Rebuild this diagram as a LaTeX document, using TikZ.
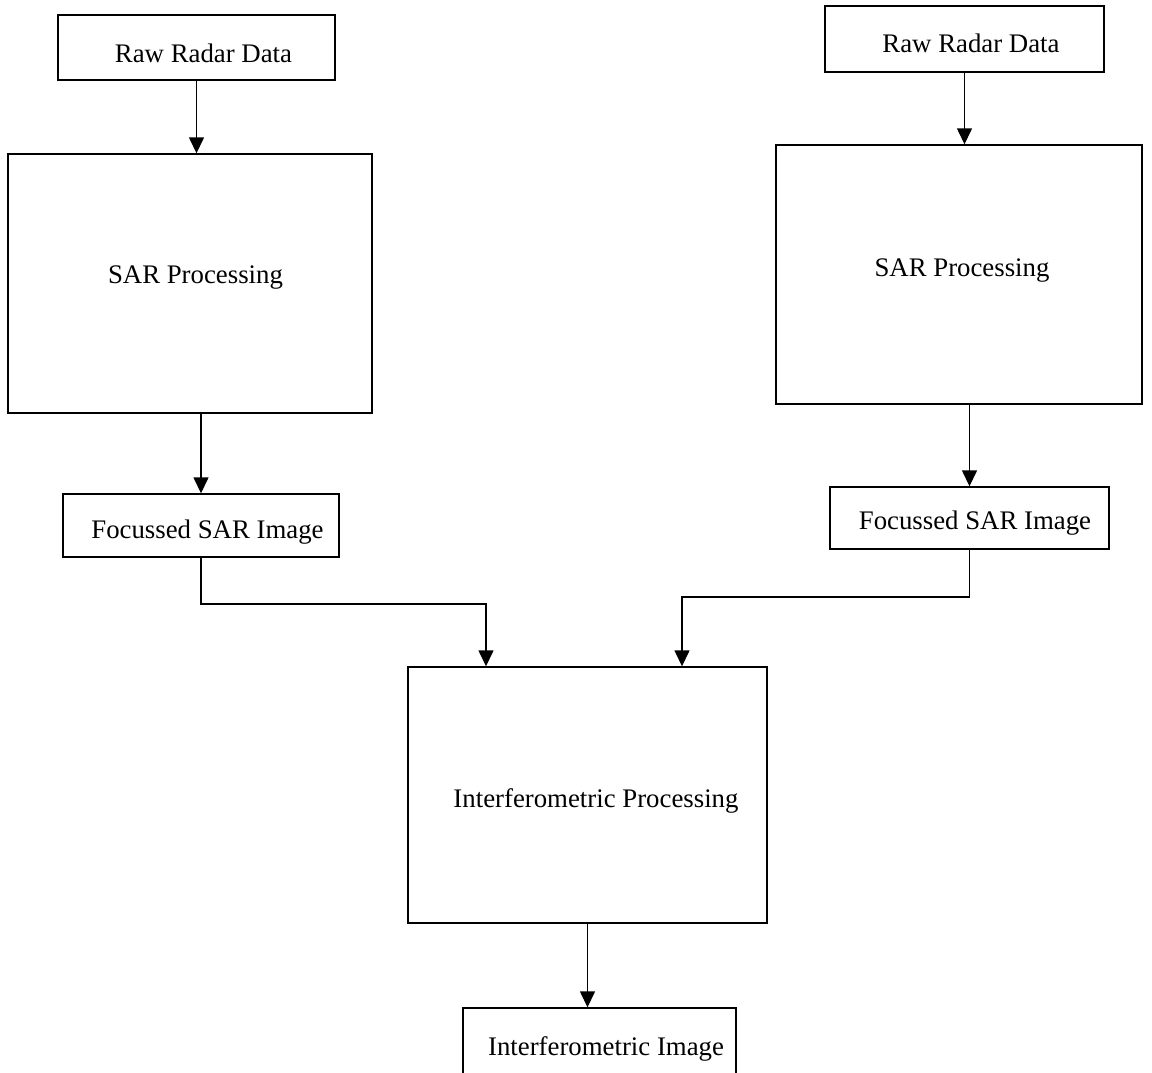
\documentclass[tikz,border=0pt]{standalone}
\usepackage{fontspec}
\setmainfont{Liberation Serif}
\usetikzlibrary{arrows.meta}
\begin{document}
\begin{tikzpicture}[x=1pt,y=-1pt,
  box/.style={draw, line width=1.4pt, rectangle, inner sep=0pt},
  lbl/.style={anchor=base, inner sep=0pt, font=\fontsize{26.8}{32}\selectfont},
  conn/.style={line width=1.4pt, -{Triangle[length=16pt,width=15pt]}},
  wire/.style={line width=1.4pt}]
\clip (0,0) rectangle (1152,1072);
\fill[white] (0,0) rectangle (1152,1072);

% boxes
\node[box, minimum width=277pt, minimum height=65pt]  (rawL) at (196.5,47.5) {};
\node[box, minimum width=364pt, minimum height=259pt] (sarL) at (190,283.5) {};
\node[box, minimum width=276pt, minimum height=63pt]  (focL) at (201,525.5) {};
\node[box, minimum width=279pt, minimum height=66pt]  (rawR) at (964.5,39) {};
\node[box, minimum width=366pt, minimum height=259pt] (sarR) at (959,274.5) {};
\node[box, minimum width=279pt, minimum height=62pt]  (focR) at (969.5,518) {};
\node[box, minimum width=359pt, minimum height=256pt] (intP) at (587.5,795) {};
\node[box, minimum width=273pt, minimum height=80pt]  (intI) at (599.5,1048) {};

% labels
\node[lbl] (rawLt) at (203.5,62)  {Raw Radar Data};
\node[lbl] (sarLt) at (195.5,283) {SAR Processing};
\node[lbl] (focLt) at (207.5,538) {Focussed SAR Image};
\node[lbl] (rawRt) at (971,52)    {Raw Radar Data};
\node[lbl] (sarRt) at (962,276)   {SAR Processing};
\node[lbl] (focRt) at (975,529)   {Focussed SAR Image};
\node[lbl] (intPt) at (596,807)   {Interferometric Processing};
\node[lbl] (intIt) at (606,1055)  {Interferometric Image};

% connectors
\draw[conn] (rawL.south) -- (rawL.south |- sarL.north);
\draw[conn] (focL.north |- sarL.south) -- (focL.north);
\draw[conn] (rawR.south) -- (rawR.south |- sarR.north);
\draw[conn] (focR.north |- sarR.south) -- (focR.north);

\coordinate (jL) at (486,604);
\coordinate (jR) at (682,597);
\draw[conn] (focL.south) |- (jL) -- (jL |- intP.north);
\draw[conn] (focR.south) |- (jR) -- (jR |- intP.north);

\draw[conn] (intP.south) -- (intP.south |- intI.north);
\end{tikzpicture}
\end{document}
